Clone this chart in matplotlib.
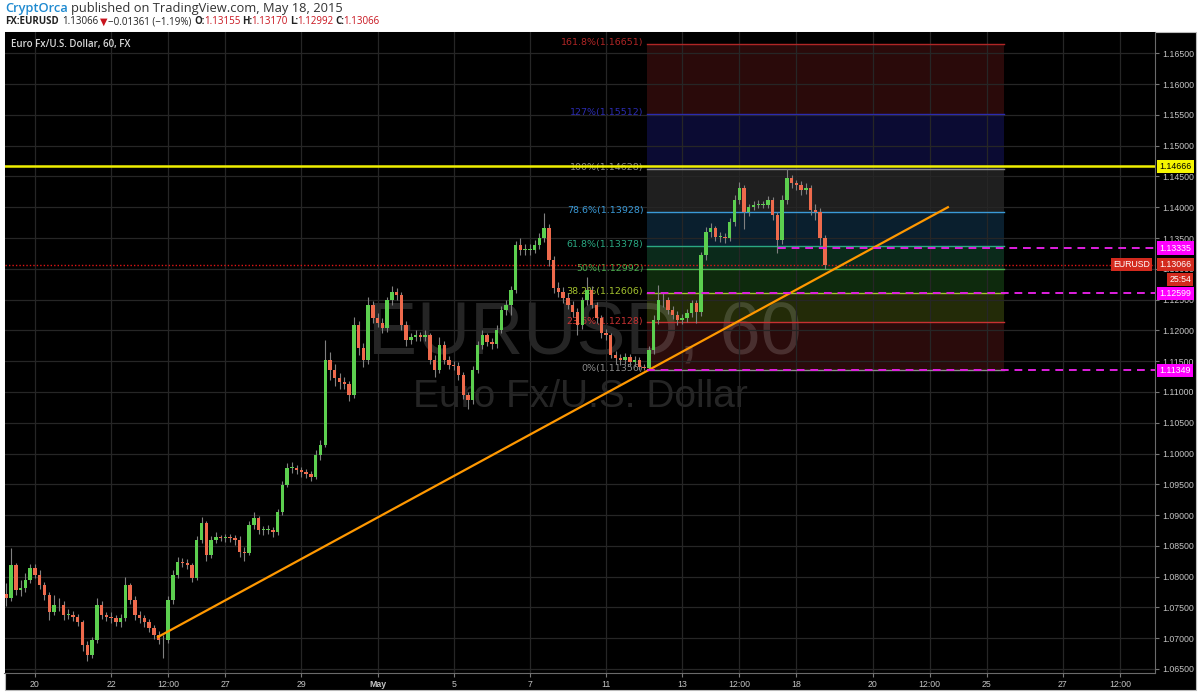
import matplotlib
matplotlib.use('Agg')
import matplotlib.pyplot as plt
from matplotlib.patches import Rectangle
from matplotlib.transforms import blended_transform_factory
import numpy as np

W, H = 1200, 693

# EURUSD, 3-hour candles, one row per trading day
days = ['Apr17', 'Apr20', 'Apr21', 'Apr22', 'Apr23', 'Apr24', 'Apr27', 'Apr28', 'Apr29', 'Apr30', 'May1',
        'May4', 'May5', 'May6', 'May7', 'May8', 'May11', 'May12', 'May13', 'May14', 'May15', 'May18']
first_open = 1.0772
close = [
    [1.0765, 1.0819, 1.0778, 1.0782, 1.0795, 1.0814],
    [1.0803, 1.0786, 1.0770, 1.0743, 1.0754, 1.0754, 1.0738, 1.0738],
    [1.0735, 1.0726, 1.0689, 1.0673, 1.0697, 1.0754, 1.0738, 1.0735],
    [1.0733, 1.0726, 1.0733, 1.0786, 1.0762, 1.0738, 1.0733, 1.0726],
    [1.0717, 1.0705, 1.0697, 1.0697, 1.0762, 1.0803, 1.0824, 1.0822],
    [1.0819, 1.0798, 1.0860, 1.0887, 1.0835, 1.0860, 1.0864, 1.0863],
    [1.0864, 1.0863, 1.0860, 1.0840, 1.0838, 1.0884, 1.0895, 1.0876],
    [1.0876, 1.0876, 1.0873, 1.0905, 1.0949, 1.0977, 1.0977, 1.0973],
    [1.0970, 1.0967, 1.0962, 1.0998, 1.1014, 1.1152, 1.1136, 1.1123],
    [1.1116, 1.1113, 1.1095, 1.1209, 1.1171, 1.1152, 1.1241, 1.1220],
    [1.1212, 1.1204, 1.1249, 1.1262, 1.1258, 1.1209, 1.1184, 1.1189],
    [1.1192, 1.1189, 1.1192, 1.1152, 1.1136, 1.1176, 1.1152, 1.1144],
    [1.1142, 1.1128, 1.1095, 1.1087, 1.1136, 1.1176, 1.1192, 1.1181],
    [1.1178, 1.1201, 1.1233, 1.1241, 1.1266, 1.1339, 1.1331, 1.1331],
    [1.1331, 1.1339, 1.1350, 1.1366, 1.1314, 1.1269, 1.1262, 1.1253],
    [1.1241, 1.1230, 1.1209, 1.1249, 1.1266, 1.1241, 1.1220, 1.1196],
    [1.1192, 1.1160, 1.1155, 1.1152, 1.1157, 1.1149, 1.1152, 1.1140],
    [1.1139, 1.1168, 1.1217, 1.1249, 1.1249, 1.1233, 1.1225, 1.1217],
    [1.1220, 1.1228, 1.1244, 1.1230, 1.1322, 1.1360, 1.1366, 1.1352],
    [1.1352, 1.1350, 1.1376, 1.1412, 1.1431, 1.1392, 1.1400, 1.1404],
    [1.1404, 1.1404, 1.1412, 1.1387, 1.1347, 1.1412, 1.1448, 1.1440],
    [1.1436, 1.1428, 1.1431, 1.1396, 1.1392, 1.1350, 1.13066],
]
high = [
    [1.0790, 1.0847, 1.0822, 1.0795, 1.0806, 1.0820],
    [1.0820, 1.0810, 1.0792, 1.0775, 1.0770, 1.0765, 1.0760, 1.0748],
    [1.0745, 1.0740, 1.0730, 1.0695, 1.0702, 1.0765, 1.0760, 1.0742],
    [1.0742, 1.0738, 1.0740, 1.0800, 1.0790, 1.0768, 1.0745, 1.0738],
    [1.0732, 1.0722, 1.0712, 1.0705, 1.0768, 1.0810, 1.0832, 1.0830],
    [1.0828, 1.0822, 1.0866, 1.0897, 1.0890, 1.0866, 1.0872, 1.0868],
    [1.0870, 1.0870, 1.0868, 1.0866, 1.0848, 1.0890, 1.0905, 1.0898],
    [1.0882, 1.0884, 1.0880, 1.0910, 1.0955, 1.0985, 1.0986, 1.0982],
    [1.0978, 1.0975, 1.0972, 1.1005, 1.1022, 1.1184, 1.1165, 1.1145],
    [1.1130, 1.1125, 1.1118, 1.1222, 1.1215, 1.1180, 1.1255, 1.1248],
    [1.1228, 1.1220, 1.1255, 1.1272, 1.1268, 1.1262, 1.1215, 1.1195],
    [1.1200, 1.1198, 1.1200, 1.1196, 1.1160, 1.1190, 1.1182, 1.1158],
    [1.1150, 1.1148, 1.1132, 1.1100, 1.1142, 1.1182, 1.1200, 1.1196],
    [1.1188, 1.1208, 1.1240, 1.1250, 1.1272, 1.1345, 1.1350, 1.1340],
    [1.1340, 1.1346, 1.1358, 1.1391, 1.1372, 1.1320, 1.1278, 1.1270],
    [1.1260, 1.1248, 1.1236, 1.1255, 1.1287, 1.1272, 1.1246, 1.1225],
    [1.1202, 1.1196, 1.1166, 1.1162, 1.1164, 1.1162, 1.1158, 1.1156],
    [1.1146, 1.1175, 1.1225, 1.1274, 1.1262, 1.1255, 1.1240, 1.1232],
    [1.1226, 1.1234, 1.1250, 1.1250, 1.1328, 1.1368, 1.1375, 1.1370],
    [1.1360, 1.1358, 1.1382, 1.1420, 1.1441, 1.1436, 1.1406, 1.1410],
    [1.1412, 1.1410, 1.1418, 1.1416, 1.1392, 1.1420, 1.14628, 1.1452],
    [1.1445, 1.1442, 1.1440, 1.1436, 1.1405, 1.1398, 1.1355],
]
low = [
    [1.0752, 1.0760, 1.0770, 1.0768, 1.0775, 1.0790],
    [1.0798, 1.0780, 1.0762, 1.0730, 1.0738, 1.0745, 1.0730, 1.0732],
    [1.0728, 1.0720, 1.0680, 1.0663, 1.0668, 1.0692, 1.0732, 1.0728],
    [1.0725, 1.0720, 1.0718, 1.0728, 1.0755, 1.0730, 1.0725, 1.0718],
    [1.0710, 1.0698, 1.0690, 1.0668, 1.0692, 1.0755, 1.0798, 1.0815],
    [1.0812, 1.0792, 1.0795, 1.0855, 1.0825, 1.0830, 1.0855, 1.0858],
    [1.0856, 1.0857, 1.0852, 1.0832, 1.0825, 1.0835, 1.0878, 1.0870],
    [1.0868, 1.0870, 1.0865, 1.0868, 1.0900, 1.0945, 1.0968, 1.0966],
    [1.0962, 1.0960, 1.0955, 1.0958, 1.0990, 1.1010, 1.1120, 1.1110],
    [1.1105, 1.1104, 1.1085, 1.1090, 1.1160, 1.1140, 1.1145, 1.1212],
    [1.1205, 1.1196, 1.1198, 1.1242, 1.1250, 1.1200, 1.1175, 1.1178],
    [1.1182, 1.1183, 1.1182, 1.1145, 1.1125, 1.1130, 1.1145, 1.1138],
    [1.1136, 1.1120, 1.1088, 1.1072, 1.1080, 1.1130, 1.1170, 1.1175],
    [1.1170, 1.1172, 1.1195, 1.1225, 1.1225, 1.1260, 1.1322, 1.1322],
    [1.1322, 1.1325, 1.1332, 1.1344, 1.1305, 1.1260, 1.1255, 1.1245],
    [1.1235, 1.1222, 1.1192, 1.1202, 1.1242, 1.1236, 1.1212, 1.1188],
    [1.1185, 1.1155, 1.1146, 1.1144, 1.1146, 1.1142, 1.1142, 1.1136],
    [1.11356, 1.1136, 1.1162, 1.1210, 1.1238, 1.1226, 1.1218, 1.1208],
    [1.1210, 1.1214, 1.1222, 1.1212, 1.1224, 1.1315, 1.1352, 1.1345],
    [1.1344, 1.1342, 1.1345, 1.1370, 1.1405, 1.1365, 1.1385, 1.1395],
    [1.1398, 1.1398, 1.1398, 1.1380, 1.1326, 1.1340, 1.1405, 1.1432],
    [1.1428, 1.1420, 1.1422, 1.1388, 1.1380, 1.1338, 1.12992],
]

# time axis (trading days from Apr 20)
tick_pos = [0, 2, 3.5, 5, 7, 9, 11, 13, 15, 17, 18.5, 20, 22, 23.5, 25, 27, 28.5]
tick_lab = ['20', '22', '12:00', '27', '29', 'May', '5', '7', '11', '13', '12:00', '18',
            '20', '12:00', '25', '27', '12:00']
price_ticks = np.arange(1.065, 1.1651, 0.005)

# fibonacci retracement
fib_pct = ['0%', '23.6%', '38.2%', '50%', '61.8%', '78.6%', '100%', '127%', '161.8%']
fib_price = [1.11356, 1.12128, 1.12606, 1.12992, 1.13378, 1.13928, 1.14628, 1.15512, 1.16651]
fib_col = ['#8c8c8c', '#c83232', '#a3c12e', '#4caf50', '#2aa882', '#3a9ad8', '#8c8c8c', '#2b2bb0', '#b02626']
fib_fill = ['#2a0b0b', '#232b08', '#0e2a0d', '#0b2a1b', '#0a1f2e', '#1f1f1f', '#0b0b33', '#2a0a0a']
fib_start, fib_end = 16.08, 25.45

trend = ([3.23, 23.98], [1.0702, 1.1400])
resist = 1.14666
magenta_lv = [1.13335, 1.12599, 1.11349]
magenta_start = [19.52, 16.08, 16.08]
last_price = 1.13066

# build candle arrays
xs, o, c, h, l = [], [], [], [], []
prev = first_open
for i, (cs, hs, ls) in enumerate(zip(close, high, low)):
    start = 8 - len(cs) if i == 0 else 0
    for j in range(len(cs)):
        xs.append(i - 1 + (start + j) / 8)
        o.append(prev)
        c.append(cs[j])
        h.append(max(hs[j], prev, cs[j]))
        l.append(min(ls[j], prev, cs[j]))
        prev = cs[j]
xs, o, c, h, l = map(np.array, (xs, o, c, h, l))

fig = plt.figure(figsize=(W / 100, H / 100), dpi=100, facecolor='white')
fig.patches.append(Rectangle((4.5 / W, 3 / H), (1196 - 4.5) / W, (690 - 32) / H,
                             transform=fig.transFigure, facecolor='black', edgecolor='#bbbbbb',
                             lw=0.8, zorder=-5))
ax = fig.add_axes([4.5 / W, (H - 673) / H, (1155 - 4.5) / W, (673 - 32) / H])
ax.set_zorder(1)
ax.set_facecolor('black')
ax.set_xlim(-0.80, 29.42)
ax.set_ylim(1.06435, 1.16846)

ax.set_yticks(price_ticks)
ax.set_yticklabels(['%.5f' % p for p in price_ticks])
ax.yaxis.tick_right()
ax.set_xticks(tick_pos)
ax.set_xticklabels(tick_lab)
for t in ax.get_xticklabels():
    if t.get_text() == 'May':
        t.set_fontweight('bold')
ax.tick_params(axis='both', labelcolor='#c4c4c4', color='#777777', length=3, labelsize=6.3)
ax.tick_params(axis='y', pad=2)
ax.tick_params(axis='x', pad=2)
for lab in ax.get_xticklabels() + ax.get_yticklabels():
    lab.set_family('Liberation Sans')
ax.grid(True, color='#262626', lw=0.9)
ax.set_axisbelow(False)
for s in ['top', 'left']:
    ax.spines[s].set_visible(False)
for s in ['right', 'bottom']:
    ax.spines[s].set_color('#6a6a6a')

# fib bands
for k in range(len(fib_fill)):
    ax.add_patch(Rectangle((fib_start, fib_price[k]), fib_end - fib_start,
                           fib_price[k + 1] - fib_price[k], facecolor=fib_fill[k],
                           edgecolor='none', zorder=1))
for k in range(len(fib_pct)):
    ax.plot([fib_start, fib_end], [fib_price[k], fib_price[k]], color=fib_col[k], lw=1, zorder=2.6)
    ax.text(fib_start - 0.1, fib_price[k] + 0.0002, '%s(%.5f)' % (fib_pct[k], fib_price[k]),
            color=fib_col[k], fontsize=6.8, ha='right', va='center', family='DejaVu Sans', zorder=2.6)

# watermark
ax.text(14.45, 1.1163, 'EURUSD, 60', fontsize=53, color='white', alpha=0.15, ha='center',
        va='baseline', family='Liberation Sans', zorder=1.5)
ax.text(14.32, 1.1076, 'Euro Fx/U.S. Dollar', fontsize=28, color='white', alpha=0.15, ha='center',
        va='baseline', family='Liberation Sans', zorder=1.5)

# horizontal lines
ax.axhline(resist, color='#f0f000', lw=1.8, zorder=5)
ax.axhline(last_price, color='#e01515', lw=1.0, ls=(0, (1, 1.5)), zorder=2.7)
for lv, x0 in zip(magenta_lv, magenta_start):
    ax.plot([x0, 29.42], [lv, lv], color='#e020e0', lw=1.4, ls=(0, (4, 3)), zorder=5)

# candles
up = c >= o
ax.vlines(xs, l, h, color='#808080', lw=0.8, zorder=3)
body = np.where(np.abs(c - o) < 0.00006, 0.00006, c - o)
ax.bar(xs[up], body[up], bottom=o[up], width=0.09, color='#5ccf4f', zorder=3.5, lw=0)
ax.bar(xs[~up], body[~up], bottom=o[~up], width=0.09, color='#ee6a4c', zorder=3.5, lw=0)

ax.plot(trend[0], trend[1], color='#ff9800', lw=1.6, zorder=4.5)

# axis value tags
tr = blended_transform_factory(fig.transFigure, ax.transData)
tags = [(resist, '%.5f' % resist, '#f5f500', 'black')] + \
       [(lv, '%.5f' % lv, '#ff00ff', 'white') for lv in magenta_lv] + \
       [(last_price, '%.5f' % last_price, '#d32a1e', 'white')]
for lv, txt, bg, fg in tags:
    ax.text(1159.5 / W, lv, txt, transform=tr, fontsize=6.3, color=fg, va='center', ha='left',
            family='Liberation Sans', zorder=10, clip_on=False,
            bbox=dict(boxstyle='square,pad=0.25', facecolor=bg, edgecolor='none'))
ax.text(1150 / W, last_price, 'EURUSD', transform=tr, fontsize=6.3, color='white', va='center',
        ha='right', family='Liberation Sans', zorder=10, clip_on=False,
        bbox=dict(boxstyle='square,pad=0.25', facecolor='#d32a1e', edgecolor='none'))
fig.text(1191 / W, 1 - 279.5 / H, '25:54', fontsize=6.3, color='white', va='center', ha='right',
         family='Liberation Sans', zorder=10,
         bbox=dict(boxstyle='square,pad=0.25', facecolor='#d32a1e', edgecolor='none'))

fig.text(11 / W, 1 - 45 / H, 'Euro Fx/U.S. Dollar, 60, FX', fontsize=7, color='#d8d8d8',
         fontweight='semibold', va='center', family='Open Sans', zorder=10)

# header
fig.canvas.draw()
r = fig.canvas.get_renderer()


def write_run(y, parts, size, x=5):
    for s, col, wt, gap in parts:
        t = fig.text(x / W, 1 - y / H, s, color=col, fontweight=wt, fontsize=size,
                     va='center', ha='left', family=['Open Sans', 'DejaVu Sans'])
        x = t.get_window_extent(renderer=r).x1 + gap


red = '#c8141e'
ink = '#222222'
write_run(8.5, [('CryptOrca', '#1f8ad0', 'semibold', 3),
                ('published on TradingView.com, May 18, 2015', '#333333', 'normal', 0)], 9.3)
write_run(22, [('FX:EURUSD', ink, 'bold', 3), ('1.13066', ink, 'normal', 2),
               ('\u25bc', red, 'normal', 1), ('\u22120.01361 (\u22121.19%)', ink, 'normal', 3),
               ('O:', ink, 'bold', -1), ('1.13155', red, 'normal', 2),
               ('H:', ink, 'bold', -1), ('1.13170', red, 'normal', 2),
               ('L:', ink, 'bold', -1), ('1.12992', red, 'normal', 2),
               ('C:', ink, 'bold', -1), ('1.13066', red, 'normal', 0)], 7.0)

fig.savefig('out.png', dpi=100, facecolor='white')
